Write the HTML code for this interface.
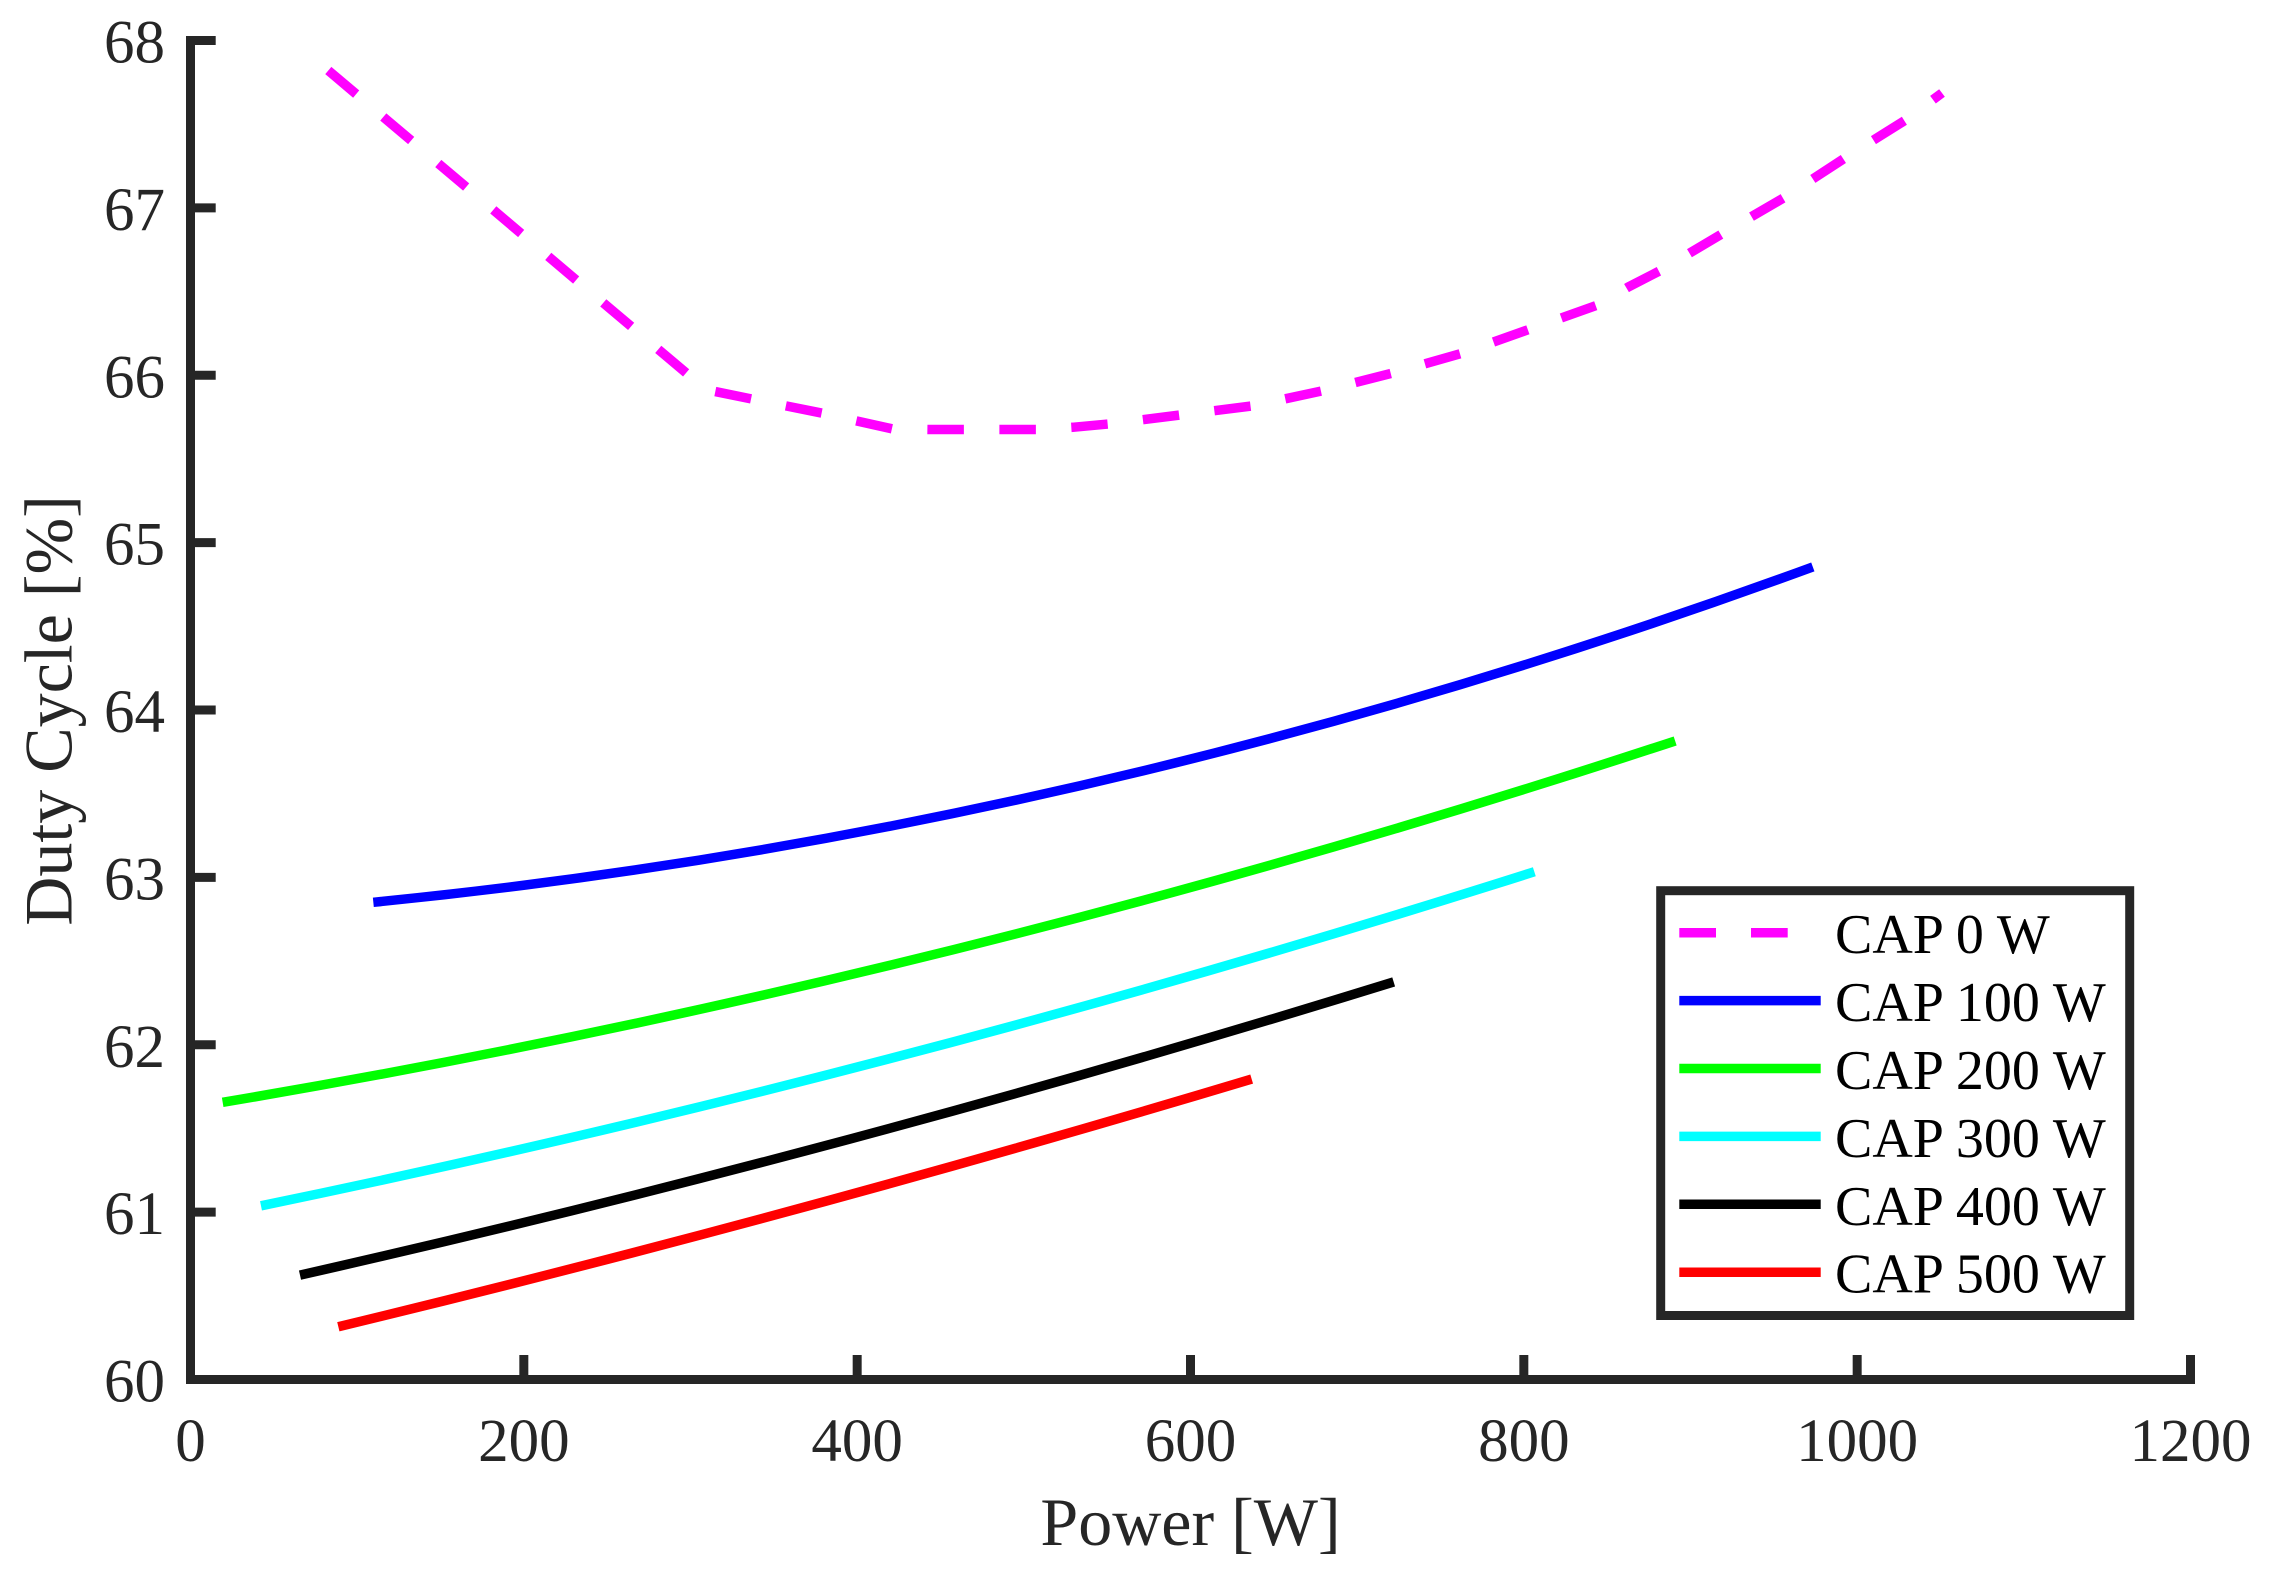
<!DOCTYPE html>
<html>
<head>
<meta charset="utf-8">
<style>
  html, body { margin: 0; padding: 0; background: #ffffff; }
  svg { display: block; }
  text { font-family: "Liberation Serif", "Times New Roman", serif; }
</style>
</head>
<body>
<svg width="2274" height="1586" viewBox="0 0 2274 1586" xmlns="http://www.w3.org/2000/svg">
  <rect x="0" y="0" width="2274" height="1586" fill="#ffffff"/>

  <!-- Data series -->
  <g fill="none" stroke-width="9.5" stroke-linecap="butt" stroke-linejoin="round">
    <!-- CAP 0 W (dashed magenta) -->
    <polyline stroke="#ff00ff" stroke-dasharray="36.5 35.5"
      points="328.3,70.5 706,389.7 751.7,399 822.7,413.3 892.7,429 928,429.5 1036.7,429.5 1072.7,427.3 1108.3,424 1180,415 1251.7,406 1321.7,391 1391.7,373.3 1461.7,353.3 1529.3,329.3 1597.7,305 1628.3,287 1660,270.7 1721.7,234 1784.7,197.3 1846,157.3 1906.7,119.3 1942,93"/>
    <!-- CAP 100 W -->
    <path stroke="#0000ff" d="M373.33,902.3 Q1093.08,830.85 1812.83,566.9"/>
    <!-- CAP 200 W -->
    <path stroke="#00ff00" d="M222.67,1102.33 Q948.92,979.98 1675.17,740.96"/>
    <!-- CAP 300 W -->
    <path stroke="#00ffff" d="M261,1205.81 Q897.67,1074.37 1534.33,871.74"/>
    <!-- CAP 400 W -->
    <path stroke="#000000" d="M300,1275.14 Q846.83,1151.22 1393.67,981.95"/>
    <!-- CAP 500 W -->
    <path stroke="#ff0000" d="M338.33,1326.78 Q795,1216.26 1251.67,1079.06"/>
  </g>

  <!-- Axes -->
  <g stroke="#262626" fill="none">
    <path d="M190.5,40.5 V1379.5 H2190.5" stroke-width="9" stroke-linecap="square" stroke-linejoin="miter"/>
    <!-- y ticks -->
    <g stroke-width="9" stroke-linecap="butt">
      <line x1="190.5" y1="40.5" x2="215.7" y2="40.5"/>
      <line x1="190.5" y1="207.875" x2="215.7" y2="207.875"/>
      <line x1="190.5" y1="375.25" x2="215.7" y2="375.25"/>
      <line x1="190.5" y1="542.625" x2="215.7" y2="542.625"/>
      <line x1="190.5" y1="710" x2="215.7" y2="710"/>
      <line x1="190.5" y1="877.375" x2="215.7" y2="877.375"/>
      <line x1="190.5" y1="1044.75" x2="215.7" y2="1044.75"/>
      <line x1="190.5" y1="1212.125" x2="215.7" y2="1212.125"/>
      <!-- x ticks -->
      <line x1="523.83" y1="1379.5" x2="523.83" y2="1355"/>
      <line x1="857.17" y1="1379.5" x2="857.17" y2="1355"/>
      <line x1="1190.5" y1="1379.5" x2="1190.5" y2="1355"/>
      <line x1="1523.83" y1="1379.5" x2="1523.83" y2="1355"/>
      <line x1="1857.17" y1="1379.5" x2="1857.17" y2="1355"/>
      <line x1="2190.5" y1="1379.5" x2="2190.5" y2="1355"/>
    </g>
  </g>

  <!-- Y tick labels -->
  <g fill="#262626" font-size="61" text-anchor="end">
    <text x="165" y="62.5">68</text>
    <text x="165" y="229.9">67</text>
    <text x="165" y="397.3">66</text>
    <text x="165" y="564.6">65</text>
    <text x="165" y="732">64</text>
    <text x="165" y="899.4">63</text>
    <text x="165" y="1066.8">62</text>
    <text x="165" y="1234.1">61</text>
    <text x="165" y="1401.5">60</text>
  </g>

  <!-- X tick labels -->
  <g fill="#262626" font-size="61" text-anchor="middle">
    <text x="190.5" y="1461">0</text>
    <text x="523.83" y="1461">200</text>
    <text x="857.17" y="1461">400</text>
    <text x="1190.5" y="1461">600</text>
    <text x="1523.83" y="1461">800</text>
    <text x="1857.17" y="1461">1000</text>
    <text x="2190.5" y="1461">1200</text>
  </g>

  <!-- Axis labels -->
  <text x="1190.5" y="1545" font-size="68" fill="#262626" text-anchor="middle">Power [W]</text>
  <text transform="translate(71.5,710.5) rotate(-90)" x="0" y="0" font-size="68" fill="#262626" text-anchor="middle">Duty Cycle [%]</text>

  <!-- Legend -->
  <rect x="1660.7" y="890.7" width="469" height="424.8" fill="#ffffff" stroke="#262626" stroke-width="9"/>
  <g stroke-width="9.5" fill="none" stroke-linecap="butt">
    <line x1="1679.3" y1="932.7" x2="1820.7" y2="932.7" stroke="#ff00ff" stroke-dasharray="36.7 35"/>
    <line x1="1679.3" y1="1000.6" x2="1820.7" y2="1000.6" stroke="#0000ff"/>
    <line x1="1679.3" y1="1068.5" x2="1820.7" y2="1068.5" stroke="#00ff00"/>
    <line x1="1679.3" y1="1136.4" x2="1820.7" y2="1136.4" stroke="#00ffff"/>
    <line x1="1679.3" y1="1204.3" x2="1820.7" y2="1204.3" stroke="#000000"/>
    <line x1="1679.3" y1="1272.2" x2="1820.7" y2="1272.2" stroke="#ff0000"/>
  </g>
  <g fill="#000000" font-size="56">
    <text x="1835" y="953.2">CAP 0 W</text>
    <text x="1835" y="1021.1">CAP 100 W</text>
    <text x="1835" y="1089">CAP 200 W</text>
    <text x="1835" y="1156.9">CAP 300 W</text>
    <text x="1835" y="1224.8">CAP 400 W</text>
    <text x="1835" y="1292.7">CAP 500 W</text>
  </g>
</svg>
</body>
</html>
